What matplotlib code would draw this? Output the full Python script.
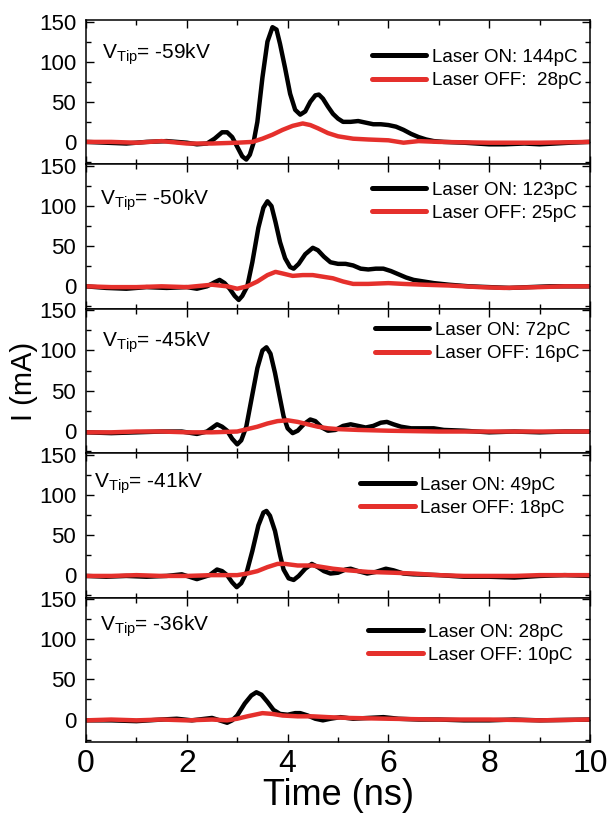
import numpy as np
import matplotlib
matplotlib.use("Agg")
import matplotlib.pyplot as plt
from matplotlib.ticker import MultipleLocator

plt.rcParams["font.family"] = ["Liberation Sans", "DejaVu Sans"]
plt.rcParams["mathtext.default"] = "regular"

# ---------------- data ----------------
V_TIP = [-59, -50, -45, -41, -36]
Q_ON = ["144pC", "123pC", "72pC", "49pC", "28pC"]
Q_OFF = [" 28pC", "25pC", "16pC", "18pC", "10pC"]

# -59 kV
t_on_59 = [0.0, 0.4, 0.8, 1.2, 1.6, 2.0, 2.2, 2.4, 2.55, 2.7, 2.8, 2.9, 3.0, 3.1, 3.18, 3.25,
           3.32, 3.4, 3.5, 3.6, 3.7, 3.78, 3.85, 3.95, 4.05, 4.15, 4.25, 4.35, 4.45, 4.55,
           4.62, 4.7, 4.8, 4.9, 5.0, 5.1, 5.25, 5.4, 5.55, 5.7, 5.85, 6.0, 6.15, 6.3, 6.45,
           6.6, 6.75, 6.9, 7.1, 7.5, 8.0, 8.3, 8.7, 9.0, 9.3, 9.6, 10.0]
i_on_59 = [0, -1, -2, 0, 1, -1, -3, -2, 4, 12, 12, 6, -6, -18, -22, -16,
           -2, 25, 80, 125, 143, 140, 122, 92, 60, 40, 34, 38, 50, 58,
           59, 54, 44, 35, 29, 25, 25, 26, 24, 22, 22, 21, 19, 15, 10,
           6, 3, 1, 0, -1, -3, -3, -2, -3, -2, -1, 0]
t_off_59 = [0, 0.5, 1.0, 1.5, 2.0, 2.5, 3.0, 3.3, 3.5, 3.7, 3.9, 4.1, 4.3, 4.45, 4.6, 4.8,
            5.0, 5.3, 5.6, 6.0, 6.3, 6.6, 7.0, 8.0, 9.0, 10.0]
i_off_59 = [0, 0, -1, 1, -2, -2, -1, 0, 4, 9, 15, 20, 23, 21, 17, 11,
            7, 4, 3, 2, -1, 1, 0, -1, -1, 0]

# -50 kV
t_on_50 = [0.0, 0.4, 0.8, 1.2, 1.6, 2.0, 2.2, 2.4, 2.55, 2.65, 2.75, 2.85, 2.95, 3.03, 3.1,
           3.2, 3.3, 3.42, 3.52, 3.6, 3.68, 3.76, 3.85, 3.95, 4.05, 4.12, 4.22, 4.35, 4.5,
           4.6, 4.72, 4.85, 5.0, 5.15, 5.3, 5.45, 5.6, 5.75, 5.9, 6.05, 6.2, 6.35, 6.5,
           6.7, 6.9, 7.2, 7.6, 8.0, 8.4, 8.8, 9.2, 9.6, 10.0]
i_on_50 = [0, -2, -3, -1, -2, -1, -3, 0, 5, 8, 4, -3, -12, -17, -12,
           0, 30, 73, 98, 106, 100, 80, 55, 35, 24, 22, 28, 40, 48,
           45, 37, 30, 28, 28, 26, 22, 21, 22, 22, 19, 15, 11, 8,
           6, 4, 2, 0, -1, -2, -1, 0, 0, 0]
t_off_50 = [0, 0.5, 1.0, 1.5, 2.0, 2.5, 2.8, 3.0, 3.2, 3.4, 3.6, 3.76, 3.9, 4.1, 4.3, 4.5,
            4.7, 4.9, 5.1, 5.3, 5.6, 6.0, 6.3, 6.7, 7.2, 7.8, 8.3, 9.0, 9.5, 10.0]
i_off_50 = [0, -1, -1, 0, -1, 2, 0, -3, 0, 6, 14, 18, 16, 13, 14, 14,
            12, 10, 6, 3, 3, 4, 3, 2, 1, -1, -2, -1, 0, 0]

# -45 kV
t_on_45 = [0.0, 0.5, 1.0, 1.5, 1.9, 2.2, 2.4, 2.6, 2.7, 2.8, 2.9, 3.0, 3.08, 3.18, 3.3,
           3.4, 3.5, 3.58, 3.66, 3.75, 3.85, 3.92, 4.0, 4.1, 4.2, 4.32, 4.45, 4.55, 4.68,
           4.8, 4.95, 5.1, 5.25, 5.4, 5.55, 5.7, 5.85, 5.97, 6.1, 6.25, 6.45, 6.7, 6.9,
           7.1, 7.5, 8.0, 8.5, 9.0, 9.5, 10.0]
i_on_45 = [-2, -3, -2, -1, -1, -4, -1, 8, 5, 0, -10, -17, -12, 5, 45,
           78, 100, 104, 96, 72, 40, 18, 3, -3, 0, 8, 14, 12, 4,
           0, 1, 6, 8, 6, 4, 6, 10, 11, 8, 5, 3, 3, 3,
           1, 0, -2, -1, -2, -1, -1]
t_off_45 = [0, 0.5, 1.0, 1.5, 2.0, 2.5, 3.0, 3.2, 3.4, 3.6, 3.8, 4.0, 4.2, 4.4, 4.6, 4.8,
            5.0, 5.4, 6.0, 7.0, 8.0, 9.0, 10.0]
i_off_45 = [-2, -2, -1, -1, -2, -2, -1, 2, 5, 9, 12, 13, 11, 8, 5, 3,
            2, 1, 0, -1, -1, -1, -1]

# -41 kV
t_on_41 = [0.0, 0.4, 0.8, 1.2, 1.6, 1.9, 2.2, 2.45, 2.6, 2.7, 2.8, 2.9, 2.99, 3.08, 3.19,
           3.3, 3.42, 3.52, 3.58, 3.65, 3.75, 3.85, 3.92, 4.02, 4.12, 4.22, 4.35, 4.48,
           4.6, 4.72, 4.85, 5.0, 5.15, 5.25, 5.4, 5.58, 5.75, 5.95, 6.1, 6.3, 6.5, 7.0,
           7.5, 8.0, 8.5, 9.0, 9.5, 10.0]
i_on_41 = [-1, -2, -1, -2, -1, 1, -5, 0, 7, 5, 0, -9, -15, -10, 4,
           30, 62, 78, 80, 74, 55, 25, 7, -4, -6, -1, 8, 14,
           10, 5, 2, 3, 7, 8, 5, 2, 4, 8, 6, 2, 1, 0,
           -2, -2, -3, -1, 0, -1]
t_off_41 = [0, 0.5, 1.0, 1.5, 2.0, 2.5, 3.0, 3.2, 3.4, 3.6, 3.8, 3.95, 4.2, 4.5, 4.7, 4.9,
            5.2, 5.6, 6.1, 6.5, 7.0, 7.5, 8.0, 8.5, 9.0, 10.0]
i_off_41 = [-1, -1, 0, -1, -1, 0, 0, 2, 5, 10, 14, 14, 12, 12, 10, 8,
            6, 4, 3, 2, 0, -1, -1, -1, 0, 0]

# -36 kV
t_on_36 = [0.0, 0.5, 1.0, 1.5, 1.8, 2.1, 2.5, 2.7, 2.8, 2.9, 3.0, 3.15, 3.28, 3.38, 3.48,
           3.6, 3.72, 3.85, 4.0, 4.15, 4.25, 4.4, 4.55, 4.7, 4.85, 5.05, 5.3, 5.6, 5.9,
           6.2, 6.6, 7.0, 7.5, 8.0, 8.5, 9.0, 10.0]
i_on_36 = [-1, -1, -2, 0, 1, -1, 2, -2, -4, -1, 5, 20, 30, 34, 31,
           22, 12, 7, 6, 8, 8, 5, 1, -1, 1, 3, 1, 2, 3,
           1, 0, 0, -1, -1, 0, -1, 0]
t_off_36 = [0, 0.5, 1.0, 1.5, 2.0, 2.5, 2.8, 3.0, 3.2, 3.5, 3.7, 3.9, 4.2, 4.5, 4.8, 5.2,
            6.0, 7.0, 8.0, 9.0, 10.0]
i_off_36 = [-1, 0, -1, 0, -1, 0, -1, 1, 4, 8, 7, 5, 4, 4, 3, 2,
            1, 0, 0, -1, 0]

ON_T = [t_on_59, t_on_50, t_on_45, t_on_41, t_on_36]
ON_I = [i_on_59, i_on_50, i_on_45, i_on_41, i_on_36]
OFF_T = [t_off_59, t_off_50, t_off_45, t_off_41, t_off_36]
OFF_I = [i_off_59, i_off_50, i_off_45, i_off_41, i_off_36]

# label placement per panel (axes fraction)
VTIP_XY = [(0.032, 0.73), (0.028, 0.72), (0.032, 0.74), (0.015, 0.76), (0.028, 0.77)]
LEG_XY = [(0.567, 0.66), (0.567, 0.74), (0.573, 0.77), (0.544, 0.70), (0.56, 0.68)]

RED = "#e5302c"

# ---------------- figure ----------------
fig, axes = plt.subplots(5, 1, figsize=(6.11, 8.18), dpi=100, sharex=True)
fig.subplots_adjust(left=0.1408, right=0.9656, top=0.9756, bottom=0.0929, hspace=0)

for k, ax in enumerate(axes):
    ax.plot(ON_T[k], ON_I[k], color="black", lw=3.2, solid_joinstyle="round",
            solid_capstyle="round", label=f"Laser ON: {Q_ON[k]}")
    ax.plot(OFF_T[k], OFF_I[k], color=RED, lw=3.2, solid_joinstyle="round",
            solid_capstyle="round", label=f"Laser OFF: {Q_OFF[k]}")

    ax.set_xlim(0, 10)
    ax.set_ylim(-28, 152)
    ax.set_yticks([0, 50, 100, 150])
    ax.yaxis.set_minor_locator(MultipleLocator(25))
    ax.xaxis.set_major_locator(MultipleLocator(2))
    ax.xaxis.set_minor_locator(MultipleLocator(1))
    ax.tick_params(which="both", direction="in", top=True, right=True, width=1.0)
    ax.tick_params(which="major", length=6)
    ax.tick_params(which="minor", length=3.5)
    ax.tick_params(axis="y", labelsize=16, pad=7)
    ax.tick_params(axis="x", labelsize=23, pad=5)
    for sp in ax.spines.values():
        sp.set_linewidth(1.1)

    ax.text(VTIP_XY[k][0], VTIP_XY[k][1], f"V$_{{Tip}}$= {V_TIP[k]}kV",
            transform=ax.transAxes, fontsize=15, ha="left", va="baseline")

    leg = ax.legend(loc="center left", bbox_to_anchor=LEG_XY[k], frameon=False,
                    fontsize=13.5, handlelength=2.9, handletextpad=0.3, labelspacing=0.32,
                    borderaxespad=0, borderpad=0)
    for h in leg.get_lines():
        h.set_linewidth(3.6)

axes[-1].set_xlabel("Time (ns)", fontsize=26, labelpad=-1)
fig.text(0.040, 1 - 381 / 818, "I (mA)", rotation=90, fontsize=21,
         ha="center", va="center")

plt.savefig("out.png", dpi=100)
